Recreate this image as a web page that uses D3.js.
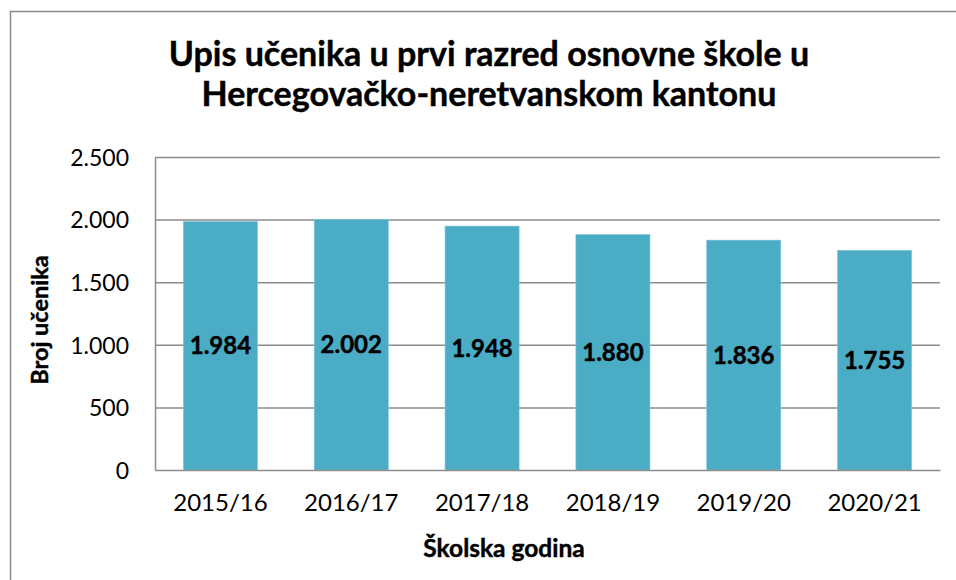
<!DOCTYPE html>
<html>
<head>
<meta charset="utf-8">
<script src="https://cdn.jsdelivr.net/npm/d3@7"></script>
<style>
  body { margin: 0; background: #fff; }
  text { font-family: Lato, "Open Sans", sans-serif; fill: #000; }
  .heavy { font-weight: bold; stroke: #000; stroke-width: 0.45px; }
</style>
</head>
<body>
<div id="chart"></div>
<script>
// data
const years = ["2015/16", "2016/17", "2017/18", "2018/19", "2019/20", "2020/21"];
const pupils = [1984, 2002, 1948, 1880, 1836, 1755];
const yTicks = [0, 500, 1000, 1500, 2000, 2500];
const titleLines = ["Upis učenika u prvi razred osnovne škole u", "Hercegovačko-neretvanskom kantonu"];

const W = 956, H = 580;
const margin = { top: 157, right: 16, bottom: 110, left: 155 };
const width = W - margin.left - margin.right;
const height = H - margin.top - margin.bottom;

const fmt = d3.formatLocale({ decimal: ",", thousands: ".", grouping: [3], currency: ["", ""] }).format(",d");

const svg = d3.select("#chart").append("svg")
    .attr("width", W)
    .attr("height", H);

// outer chart frame (runs past the right / bottom edge)
svg.append("rect")
    .attr("x", 10.5).attr("y", 11.5)
    .attr("width", W + 20).attr("height", H + 20)
    .attr("fill", "none")
    .attr("stroke", "#8c8c8c")
    .attr("stroke-width", 1.5);

// title
svg.append("g").selectAll("text")
    .data(titleLines)
    .join("text")
    .attr("class", "heavy")
    .attr("x", 489)
    .attr("y", (d, i) => 66 + i * 40)
    .attr("text-anchor", "middle")
    .style("font-size", "34px")
    .text(d => d);

const g = svg.append("g")
    .attr("transform", `translate(${margin.left},${margin.top})`);

const x = d3.scaleBand()
    .domain(years)
    .range([0, width])
    .paddingInner(0.434)
    .paddingOuter(0.217);

const y = d3.scaleLinear()
    .domain([0, 2500])
    .range([height, 0]);

// gridlines
g.append("g")
    .selectAll("line")
    .data(yTicks.filter(d => d > 0))
    .join("line")
    .attr("x1", 0).attr("x2", width)
    .attr("y1", d => y(d) + 0.5).attr("y2", d => y(d) + 0.5)
    .attr("stroke", "#8c8c8c")
    .attr("stroke-width", 1.5);

// y axis
const yAxis = g.append("g")
    .call(d3.axisLeft(y).tickValues(yTicks).tickFormat(fmt).tickSize(0).tickPadding(26));
yAxis.select(".domain").attr("stroke", "#8c8c8c").attr("stroke-width", 1.5);
yAxis.selectAll("text").style("font-size", "23px").attr("dy", "0.36em");

// bars
g.append("g")
    .selectAll("rect")
    .data(pupils)
    .join("rect")
    .attr("x", (d, i) => x(years[i]))
    .attr("width", x.bandwidth())
    .attr("y", d => y(d))
    .attr("height", d => height - y(d))
    .attr("fill", "#4bacc6")
    .attr("stroke", "#7fc4d6")
    .attr("stroke-width", 0.6);

// x axis
const xAxis = g.append("g")
    .attr("transform", `translate(0,${height})`)
    .call(d3.axisBottom(x).tickSize(0).tickPadding(24));
xAxis.select(".domain").attr("stroke", "#8c8c8c").attr("stroke-width", 1.5);
xAxis.selectAll("text").style("font-size", "24px");

// data labels
g.append("g")
    .selectAll("text")
    .data(pupils)
    .join("text")
    .attr("class", "heavy")
    .attr("x", (d, i) => x(years[i]) + x.bandwidth() / 2)
    .attr("y", d => (y(d) + height) / 2)
    .attr("dy", "0.36em")
    .attr("text-anchor", "middle")
    .style("font-size", "24px")
    .text(d => fmt(d));

// axis titles
svg.append("text")
    .attr("class", "heavy")
    .attr("x", 504)
    .attr("y", 557)
    .attr("text-anchor", "middle")
    .style("font-size", "24.5px")
    .text("Školska godina");

svg.append("text")
    .attr("class", "heavy")
    .attr("transform", "translate(48,320) rotate(-90)")
    .attr("text-anchor", "middle")
    .style("font-size", "23.5px")
    .text("Broj učenika");
</script>
</body>
</html>
